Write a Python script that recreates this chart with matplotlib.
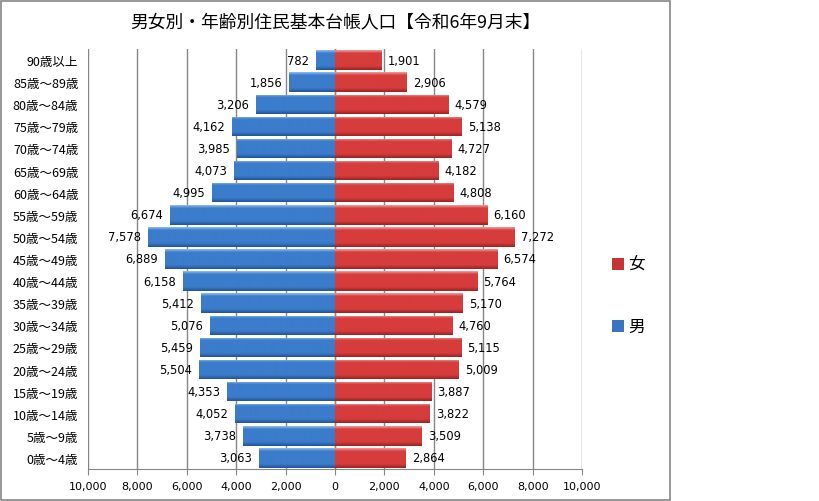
import matplotlib
matplotlib.use("Agg")
import matplotlib.pyplot as plt
from matplotlib.patches import Rectangle
from matplotlib.ticker import FuncFormatter
import numpy as np

plt.rcParams['font.family'] = ['Noto Sans CJK JP', 'DejaVu Sans']

# age groups, top to bottom as in the chart
age_labels = [
    "90歳以上", "85歳～89歳", "80歳～84歳", "75歳～79歳", "70歳～74歳",
    "65歳～69歳", "60歳～64歳", "55歳～59歳", "50歳～54歳", "45歳～49歳",
    "40歳～44歳", "35歳～39歳", "30歳～34歳", "25歳～29歳", "20歳～24歳",
    "15歳～19歳", "10歳～14歳", "5歳～9歳", "0歳～4歳",
]
male = [782, 1856, 3206, 4162, 3985, 4073, 4995, 6674, 7578, 6889,
        6158, 5412, 5076, 5459, 5504, 4353, 4052, 3738, 3063]
female = [1901, 2906, 4579, 5138, 4727, 4182, 4808, 6160, 7272, 6574,
          5764, 5170, 4760, 5115, 5009, 3887, 3822, 3509, 2864]

title = "男女別・年齢別住民基本台帳人口【令和6年9月末】"
x_ticks = [-10000, -8000, -6000, -4000, -2000, 0, 2000, 4000, 6000, 8000, 10000]


def gradient(top, mid, bottom, n=40):
    # vertical bevel-like gradient: light top edge, body, darker bottom
    top = np.array(matplotlib.colors.to_rgb(top))
    mid = np.array(matplotlib.colors.to_rgb(mid))
    bottom = np.array(matplotlib.colors.to_rgb(bottom))
    t = np.linspace(0, 1, n)
    rows = []
    for v in t:
        if v < 0.15:
            c = top + (mid - top) * (v / 0.15)
        elif v < 0.8:
            c = mid
        else:
            c = mid + (bottom - mid) * ((v - 0.8) / 0.2)
        rows.append(c)
    return np.array(rows).reshape(n, 1, 3)


blue_grad = gradient("#8DBBEE", "#3B7CCB", "#24549A")
red_grad = gradient("#F39A9A", "#D63C3C", "#9E2424")

fig = plt.figure(figsize=(8.19, 5.02), dpi=100)
ax = fig.add_axes([88 / 819, 32 / 502, 494 / 819, 420 / 502])

n = len(age_labels)
y = np.arange(n)[::-1]

bars_m = ax.barh(y, [-v for v in male], height=0.88, color="#3B7CCB", zorder=2)
bars_f = ax.barh(y, female, height=0.88, color="#D63C3C", zorder=2)

for bars, grad in ((bars_m, blue_grad), (bars_f, red_grad)):
    for p in bars:
        x0, y0 = p.get_x(), p.get_y()
        w, h = p.get_width(), p.get_height()
        im = ax.imshow(grad, extent=[x0, x0 + w, y0, y0 + h], aspect="auto",
                       origin="upper", zorder=3, interpolation="bilinear")
        im.set_clip_path(p)

for yi, m, f in zip(y, male, female):
    ax.text(-m - 280, yi, f"{m:,}", ha="right", va="center", fontsize=8.3,
            family="DejaVu Sans", zorder=4)
    ax.text(f + 250, yi, f"{f:,}", ha="left", va="center", fontsize=8.3,
            family="DejaVu Sans", zorder=4)

ax.set_xlim(-10000, 10000)
ax.set_ylim(-0.5, n - 0.5)
ax.set_xticks(x_ticks)
ax.xaxis.set_major_formatter(FuncFormatter(lambda v, pos: f"{abs(int(v)):,}"))
ax.set_yticks(y)
ax.set_yticklabels(age_labels, fontsize=9)
ax.tick_params(axis="y", length=0, pad=7)
ax.tick_params(axis="x", direction="out", length=4, color="#868686", labelsize=8, pad=5)
for lab in ax.get_xticklabels():
    lab.set_family("DejaVu Sans")

ax.grid(axis="x", color="#868686", linewidth=1.0, zorder=0)
ax.axvline(0, color="#868686", linewidth=1.0, zorder=1)
for s in ("top", "right", "left"):
    ax.spines[s].set_visible(False)
ax.spines["bottom"].set_color("#868686")

# outer chart frame
fig.patches.append(Rectangle((1 / 819, 1 / 502), 669 / 819, 499 / 502,
                             transform=fig.transFigure, fill=False,
                             edgecolor="#868686", linewidth=1.2))

fig.text(335 / 819, 1 - 22 / 502, title, ha="center", va="center", fontsize=12.8)

# legend
for label, color, ypx in (("女", "#C63434", 265), ("男", "#3A74BE", 327)):
    fig.patches.append(Rectangle((612 / 819, 1 - (ypx + 6) / 502), 12 / 819, 12 / 502,
                                 transform=fig.transFigure, facecolor=color,
                                 edgecolor="none"))
    fig.text(628 / 819, 1 - ypx / 502, label, ha="left", va="center", fontsize=12)

fig.savefig("out.png", dpi=100)
